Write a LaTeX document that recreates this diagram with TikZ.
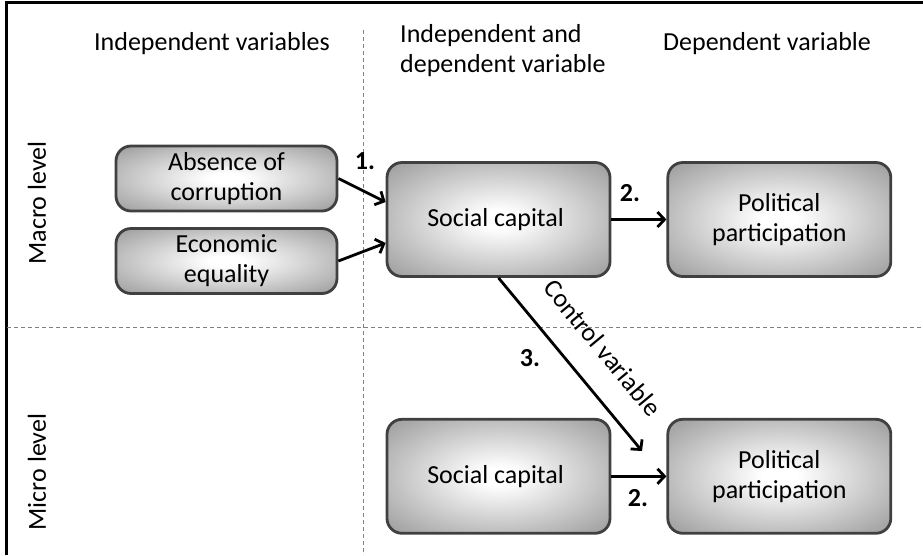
\documentclass[tikz,border=0pt]{standalone}
\usepackage{fontspec}
\setmainfont{Carlito}
\usetikzlibrary{positioning, arrows.meta}
\newcommand{\stdarrow}{-{Straight Barb[length=7pt,width=15pt]}}
\newcommand{\gaplength}{55pt}
\pgfdeclareradialshading{boxglow}{\pgfpoint{0bp}{0bp}}{color(0bp)=(white); color(4bp)=(white); color(36bp)=(black!40); color(50bp)=(black!46)}

\begin{document}
\begin{tikzpicture}[x=1pt, y=-1pt,
    every node/.style={font=\fontsize{26}{30}\selectfont},
    box/.style={draw=black!75, line width=2.8pt, rounded corners=15pt,
        shading=boxglow, align=center, inner sep=0pt},
    smallbox/.style={box, minimum width=221pt, minimum height=65pt},
    bigbox/.style={box, minimum width=223pt, minimum height=114pt},
    num/.style={font=\fontsize{26}{30}\selectfont\bfseries, inner sep=0pt},
    link/.style={\stdarrow, line width=2.8pt},
    guide/.style={draw=black!50, line width=1pt, dash pattern=on 4pt off 3pt}]
        \useasboundingbox (0,0) rectangle (923,555);
        % frame and grid
        \draw[line width=2.4pt] (6.5,555) -- (6.5,2.5) -- (923,2.5);
        \draw[guide] (363,30) -- (363,555);
        \draw[guide] (7,327) -- (923,327);
        % column and row headers
        \node[anchor=base] (indep) at (212,50) { Independent variables };
        \node[anchor=base west, align=left, inner sep=0pt] (both) at (400,72)
        { Independent and\\dependent variable };
        \node[anchor=base] (dep) at (767,50) { Dependent variable };
        \node[rotate=90] (macro) at (37,203) { Macro level };
        \node[rotate=90] (micro) at (37,472) { Micro level };
        % macro level
        \node[smallbox] (absence) at (226.5,178.5) { Absence of\\corruption };
        \node[smallbox] (equality) at (226.5,261) { Economic\\equality };
        \node[bigbox] (social) at (498.5,219.5) { Social capital };
        \node[bigbox, right=\gaplength of social] (partic) { Political\\participation };
        % micro level
        \node[bigbox, below=140pt of social] (socialmicro) { Social capital };
        \node[bigbox, right=\gaplength of socialmicro] (particmicro) { Political\\participation };
        \coordinate (ctrlend) at (642,451);
        % arrows
        \draw[link] (absence.east) -- ([yshift=17.5pt]social.west);
        \draw[link] (equality.east) -- ([yshift=-23.5pt]social.west);
        \draw[link] (social.east) -- (partic.west);
        \draw[link] (socialmicro.east) -- (particmicro.west);
        \draw[link] (social.south) -- (ctrlend)
        node[sloped, pos=0.535, above=25pt, inner sep=0pt] (ctrl) { Control variable };
        \node[num] (one) at (365,161) { 1. };
        \node[num] (two) at (630,193) { 2. };
        \node[num] (twomicro) at (638,498) { 2. };
        \node[num] (three) at (530,358) { 3. };
    \end{tikzpicture}
\end{document}
